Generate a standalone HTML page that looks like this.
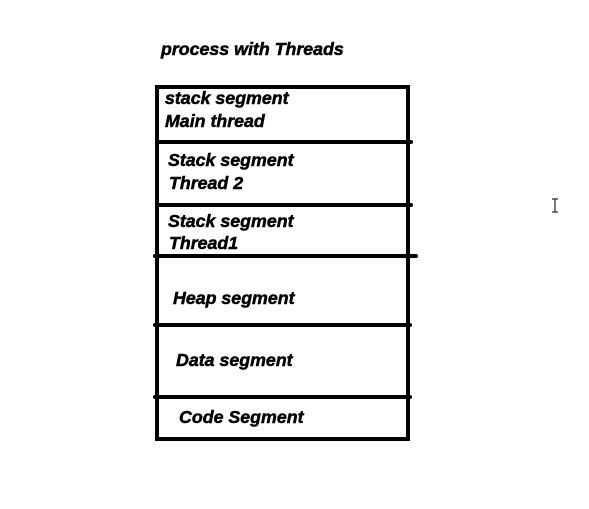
<!DOCTYPE html>
<html><head><style>
html,body{margin:0;padding:0;background:#fff;}
svg{display:block;}
text{font-family:"Liberation Sans",sans-serif;font-weight:bold;font-style:italic;font-size:17.8px;fill:#000;stroke:#000;stroke-width:0.5px;}
</style></head><body>
<svg width="589" height="509" viewBox="0 0 589 509" xmlns="http://www.w3.org/2000/svg">
<text x="161" y="55">process with Threads</text>
<g stroke="#000" stroke-width="4" fill="none" stroke-linecap="round">
<rect x="157" y="87" width="251" height="352"/>
<line x1="157" y1="142" x2="411" y2="142"/>
<line x1="157" y1="205" x2="411" y2="205"/>
<line x1="155" y1="256" x2="416" y2="256"/>
<line x1="155" y1="325" x2="410" y2="325"/>
<line x1="155" y1="397" x2="410" y2="397"/>
</g>
<text x="165" y="104">stack segment</text>
<text x="165" y="127">Main thread</text>
<text x="168" y="166">Stack segment</text>
<text x="169" y="189">Thread 2</text>
<text x="168" y="227">Stack segment</text>
<text x="169" y="249">Thread1</text>
<text x="173" y="304">Heap segment</text>
<text x="176" y="366">Data segment</text>
<text x="179" y="423">Code Segment</text>
<g stroke="#333" stroke-width="1.3">
<line x1="555" y1="199" x2="555" y2="212"/>
<line x1="552" y1="199" x2="558" y2="199"/>
<line x1="552" y1="212" x2="558" y2="212"/>
</g>
</svg>
</body></html>
